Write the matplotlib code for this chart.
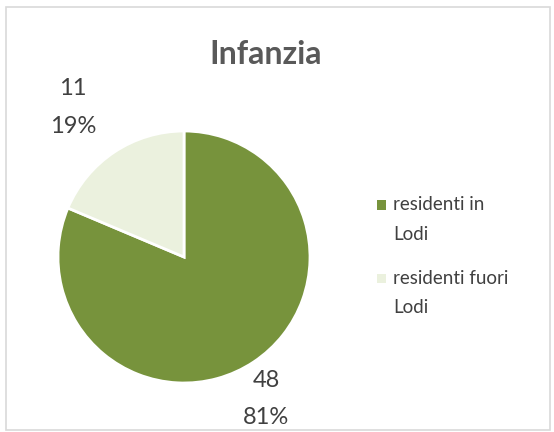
import matplotlib
matplotlib.use("Agg")
import matplotlib.pyplot as plt
from matplotlib.patches import Rectangle
import numpy as np

plt.rcParams['font.family'] = ['Lato', 'DejaVu Sans']

title = "Infanzia"
categories = ["residenti in\nLodi", "residenti fuori\nLodi"]
values = [48, 11]
percents = [81, 19]
colors = ["#77933C", "#EBF1DE"]

W, H = 554, 432
fig = plt.figure(figsize=(W / 100, H / 100), dpi=100)
fig.patch.set_facecolor("white")
fig.add_artist(Rectangle((5.5 / W, 2.5 / H), (W - 10) / W, (H - 9) / H,
                         transform=fig.transFigure, fill=False,
                         edgecolor="#D9D9D9", linewidth=1.2))

cx, cy, r = 184, 257, 126
ax = fig.add_axes([(cx - r) / W, (H - cy - r) / H, 2 * r / W, 2 * r / H])
wedges, _ = ax.pie(values, colors=colors, startangle=90, counterclock=False,
                   wedgeprops=dict(edgecolor="white", linewidth=2))
ax.set_xlim(-1, 1)
ax.set_ylim(-1, 1)
ax.set_aspect("equal")
ax.axis("off")

label_pos = [(1.30, -60), (1.478, 126.6)]
for w, v, p, (dist, ang) in zip(wedges, values, percents, label_pos):
    a = np.deg2rad(ang)
    ax.text(dist * np.cos(a), dist * np.sin(a), f"{v}\n{p}%", ha="center", va="center",
            fontsize=17, color="#404040", linespacing=1.95, clip_on=False)

fig.text(266 / W, 1 - 54 / H, title, ha="center", va="center", fontsize=23,
         fontweight="bold", color="#595959")

# legend drawn by hand to keep marker aligned with the first text line
leg_y0 = [205, 278]
line_step = 29.5
for cat, col, y0 in zip(categories, colors, leg_y0):
    fig.add_artist(Rectangle((377 / W, 1 - (y0 + 4.5) / H), 9 / W, 9 / H,
                             transform=fig.transFigure, facecolor=col,
                             edgecolor="none"))
    for i, line in enumerate(cat.split("\n")):
        fig.text(393 / W, 1 - (y0 + i * line_step) / H, line, ha="left",
                 va="center", fontsize=13.5, color="#404040")

fig.savefig("out.png", dpi=100)
